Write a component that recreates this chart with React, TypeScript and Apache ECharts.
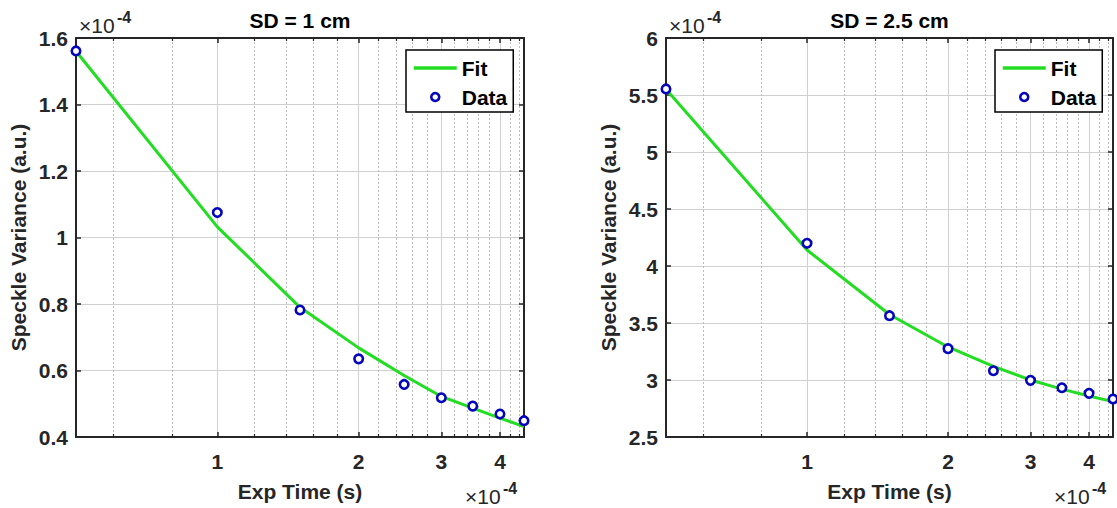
import { useEffect, useRef } from 'react';
import * as echarts from 'echarts';

// Exposure time, in units of 1e-4 s
const expTime = [0.5, 1, 1.5, 2, 2.5, 3, 3.5, 4, 4.5];
// Speckle variance, in units of 1e-4 (SD = 1 cm)
const fit1 = [1.56, 1.032, 0.79, 0.668, 0.585, 0.522, 0.487, 0.457, 0.431];
const data1 = [1.561, 1.075, 0.782, 0.635, 0.558, 0.518, 0.493, 0.469, 0.449];
// Speckle variance, in units of 1e-4 (SD = 2.5 cm)
const fit2 = [5.55, 4.14, 3.575, 3.29, 3.12, 3.0, 2.92, 2.86, 2.81];
const data2 = [5.553, 4.199, 3.564, 3.275, 3.081, 2.997, 2.932, 2.883, 2.833];

const titles = ['SD = 1 cm', 'SD = 2.5 cm'];
const xRange = [0.5, 4.5];
const xMajorTicks = [1, 2, 3, 4];
const xMinorTicks = [0.6, 0.8, 1.2, 1.4, 1.6, 1.8, 2.2, 2.4, 2.6, 2.8, 3.2, 3.4, 3.6, 3.8, 4.2, 4.4];
const yRange1 = [0.4, 1.6, 0.2];
const yRange2 = [2.5, 6, 0.5];
const xName = 'Exp Time (s)';
const yName = 'Speckle Variance (a.u.)';
const expBase = '\u00d710';
const expPow = '-4';
const legendNames = ['Fit', 'Data'];

const FONT = '"Liberation Sans", Arial, Helvetica, sans-serif';
const AXIS = '#262626';
const GREEN = '#22dd22';
const BLUE = '#0505bb';
const GRID_MAJOR = '#d0d0d0';
const GRID_MINOR = '#bdbdbd';
const FS = 21;

const fmt = (v: number) => String(Number(Number(v).toFixed(2)));

function buildOption() {
  const panels = [
    { title: titles[0], fit: fit1, data: data1, yr: yRange1 },
    { title: titles[1], fit: fit2, data: data2, yr: yRange2 },
  ];
  const gridBoxes = [
    { left: 76, top: 38, width: 448, height: 399 },
    { left: 666, top: 38, width: 447, height: 399 },
  ];
  const textStyleBold = { fontSize: FS, fontWeight: 'bold', color: AXIS, fontFamily: FONT };

  const grid: any[] = [];
  const xAxis: any[] = [];
  const yAxis: any[] = [];
  const series: any[] = [];
  const legend: any[] = [];
  const graphic: any[] = [];

  panels.forEach((p, g) => {
    const b = gridBoxes[g];
    grid.push({ ...b, containLabel: false, outerBoundsMode: 'none' });
    const xBase = { type: 'log', logBase: 10, min: xRange[0], max: xRange[1], gridIndex: g, minorTick: { show: false }, minorSplitLine: { show: false } };
    // bottom main axis
    xAxis.push({
      ...xBase,
      position: 'bottom',
      axisLine: { show: true, onZero: false, lineStyle: { color: AXIS, width: 2 } },
      axisTick: { show: true, inside: true, length: 5, customValues: xMajorTicks, lineStyle: { color: AXIS, width: 1.5 } },
      axisLabel: { show: true, customValues: xMajorTicks, margin: 14, formatter: (v: number) => fmt(v), ...textStyleBold },
      splitLine: { show: true, lineStyle: { color: GRID_MAJOR, width: 1 } },
      name: xName,
      nameLocation: 'middle',
      nameGap: 44,
      nameTextStyle: textStyleBold,
    });
    // top box axis
    xAxis.push({
      ...xBase,
      position: 'top',
      axisLine: { show: true, onZero: false, lineStyle: { color: AXIS, width: 2 } },
      axisTick: { show: true, inside: true, length: 5, customValues: xMajorTicks, lineStyle: { color: AXIS, width: 1.5 } },
      axisLabel: { show: false },
      splitLine: { show: false },
    });
    // bottom minor ticks + dotted grid
    xAxis.push({
      ...xBase,
      position: 'bottom',
      axisLine: { show: false },
      axisTick: { show: true, inside: true, length: 3, customValues: xMinorTicks, lineStyle: { color: AXIS, width: 1.2 } },
      axisLabel: { show: false },
      splitLine: { show: true, lineStyle: { color: GRID_MINOR, width: 1, type: [2, 2] } },
    });
    // top minor ticks
    xAxis.push({
      ...xBase,
      position: 'top',
      axisLine: { show: false },
      axisTick: { show: true, inside: true, length: 3, customValues: xMinorTicks, lineStyle: { color: AXIS, width: 1.2 } },
      axisLabel: { show: false },
      splitLine: { show: false },
    });

    const yBase = { type: 'value', min: p.yr[0], max: p.yr[1], interval: p.yr[2], gridIndex: g };
    yAxis.push({
      ...yBase,
      position: 'left',
      axisLine: { show: true, onZero: false, lineStyle: { color: AXIS, width: 2 } },
      axisTick: { show: true, inside: true, length: 5, lineStyle: { color: AXIS, width: 1.5 } },
      axisLabel: { show: true, margin: 8, formatter: (v: number) => fmt(v), ...textStyleBold },
      splitLine: { show: true, lineStyle: { color: GRID_MAJOR, width: 1 } },
      name: yName,
      nameLocation: 'middle',
      nameGap: 47,
      nameTextStyle: textStyleBold,
    });
    yAxis.push({
      ...yBase,
      position: 'right',
      axisLine: { show: true, onZero: false, lineStyle: { color: AXIS, width: 2 } },
      axisTick: { show: true, inside: true, length: 5, lineStyle: { color: AXIS, width: 1.5 } },
      axisLabel: { show: false },
      splitLine: { show: false },
    });

    series.push({
      type: 'line',
      name: legendNames[0],
      xAxisIndex: 4 * g,
      yAxisIndex: 2 * g,
      data: expTime.map((x, i) => [x, p.fit[i]]),
      symbol: 'none',
      lineStyle: { color: GREEN, width: 3 },
      itemStyle: { color: GREEN },
      z: 3,
    });
    series.push({
      type: 'scatter',
      name: legendNames[1],
      xAxisIndex: 4 * g,
      yAxisIndex: 2 * g,
      data: expTime.map((x, i) => [x, p.data[i]]),
      symbol: 'circle',
      symbolSize: 8.5,
      clip: false,
      itemStyle: { color: '#ffffff', borderColor: BLUE, borderWidth: 2.6, opacity: 1 },
      z: 4,
    });

    legend.push({
      data: [
        { name: legendNames[0], lineStyle: { width: 3.5, color: GREEN }, itemStyle: { opacity: 0 } },
        { name: legendNames[1], icon: 'circle', itemStyle: { color: '#ffffff', borderColor: BLUE, borderWidth: 2.6 } },
      ],
      orient: 'vertical',
      left: b.left + b.width - 118,
      top: 50,
      itemWidth: 43,
      itemHeight: 8,
      itemGap: 7,
      padding: [7, 6, 4, 6],
      backgroundColor: '#fff',
      borderColor: '#000',
      borderWidth: 1.5,
      selectedMode: false,
      textStyle: { fontSize: FS, fontWeight: 'bold', color: '#000', fontFamily: FONT, lineHeight: 22 },
    });

    const cx = b.left + b.width / 2;
    graphic.push({
      type: 'text',
      x: cx,
      y: 20,
      style: { text: p.title, fill: '#000', fontSize: FS, fontWeight: 'bold', fontFamily: FONT, align: 'center', verticalAlign: 'middle' },
    });
    // exponent labels: top-left (y) and bottom-right (x)
    const expPos = [
      [b.left + 3, 25],
      [b.left + b.width - 59, 496],
    ];
    expPos.forEach(([ex, ey]) => {
      graphic.push({
        type: 'text',
        x: ex,
        y: ey,
        style: { text: expBase, fill: AXIS, fontSize: FS, fontWeight: 'normal', fontFamily: FONT, align: 'left', verticalAlign: 'middle' },
      });
      graphic.push({
        type: 'text',
        x: ex + 38,
        y: ey - 8,
        style: { text: expPow, fill: AXIS, fontSize: 16, fontWeight: 'bold', fontFamily: FONT, align: 'left', verticalAlign: 'middle' },
      });
    });
  });

  return {
    animation: false,
    backgroundColor: '#fff',
    textStyle: { fontFamily: FONT },
    grid,
    xAxis,
    yAxis,
    series,
    legend,
    graphic,
  };
}

export default function App() {
  const ref = useRef<HTMLDivElement>(null);
  useEffect(() => {
    if (!ref.current) return;
    const chart = echarts.init(ref.current, undefined, { renderer: 'svg' });
    chart.setOption(buildOption() as any);
    return () => chart.dispose();
  }, []);
  return (
    <div
      ref={ref}
      style={{ position: 'absolute', left: 0, top: 0, width: 1117, height: 508, background: '#fff' }}
    />
  );
}
